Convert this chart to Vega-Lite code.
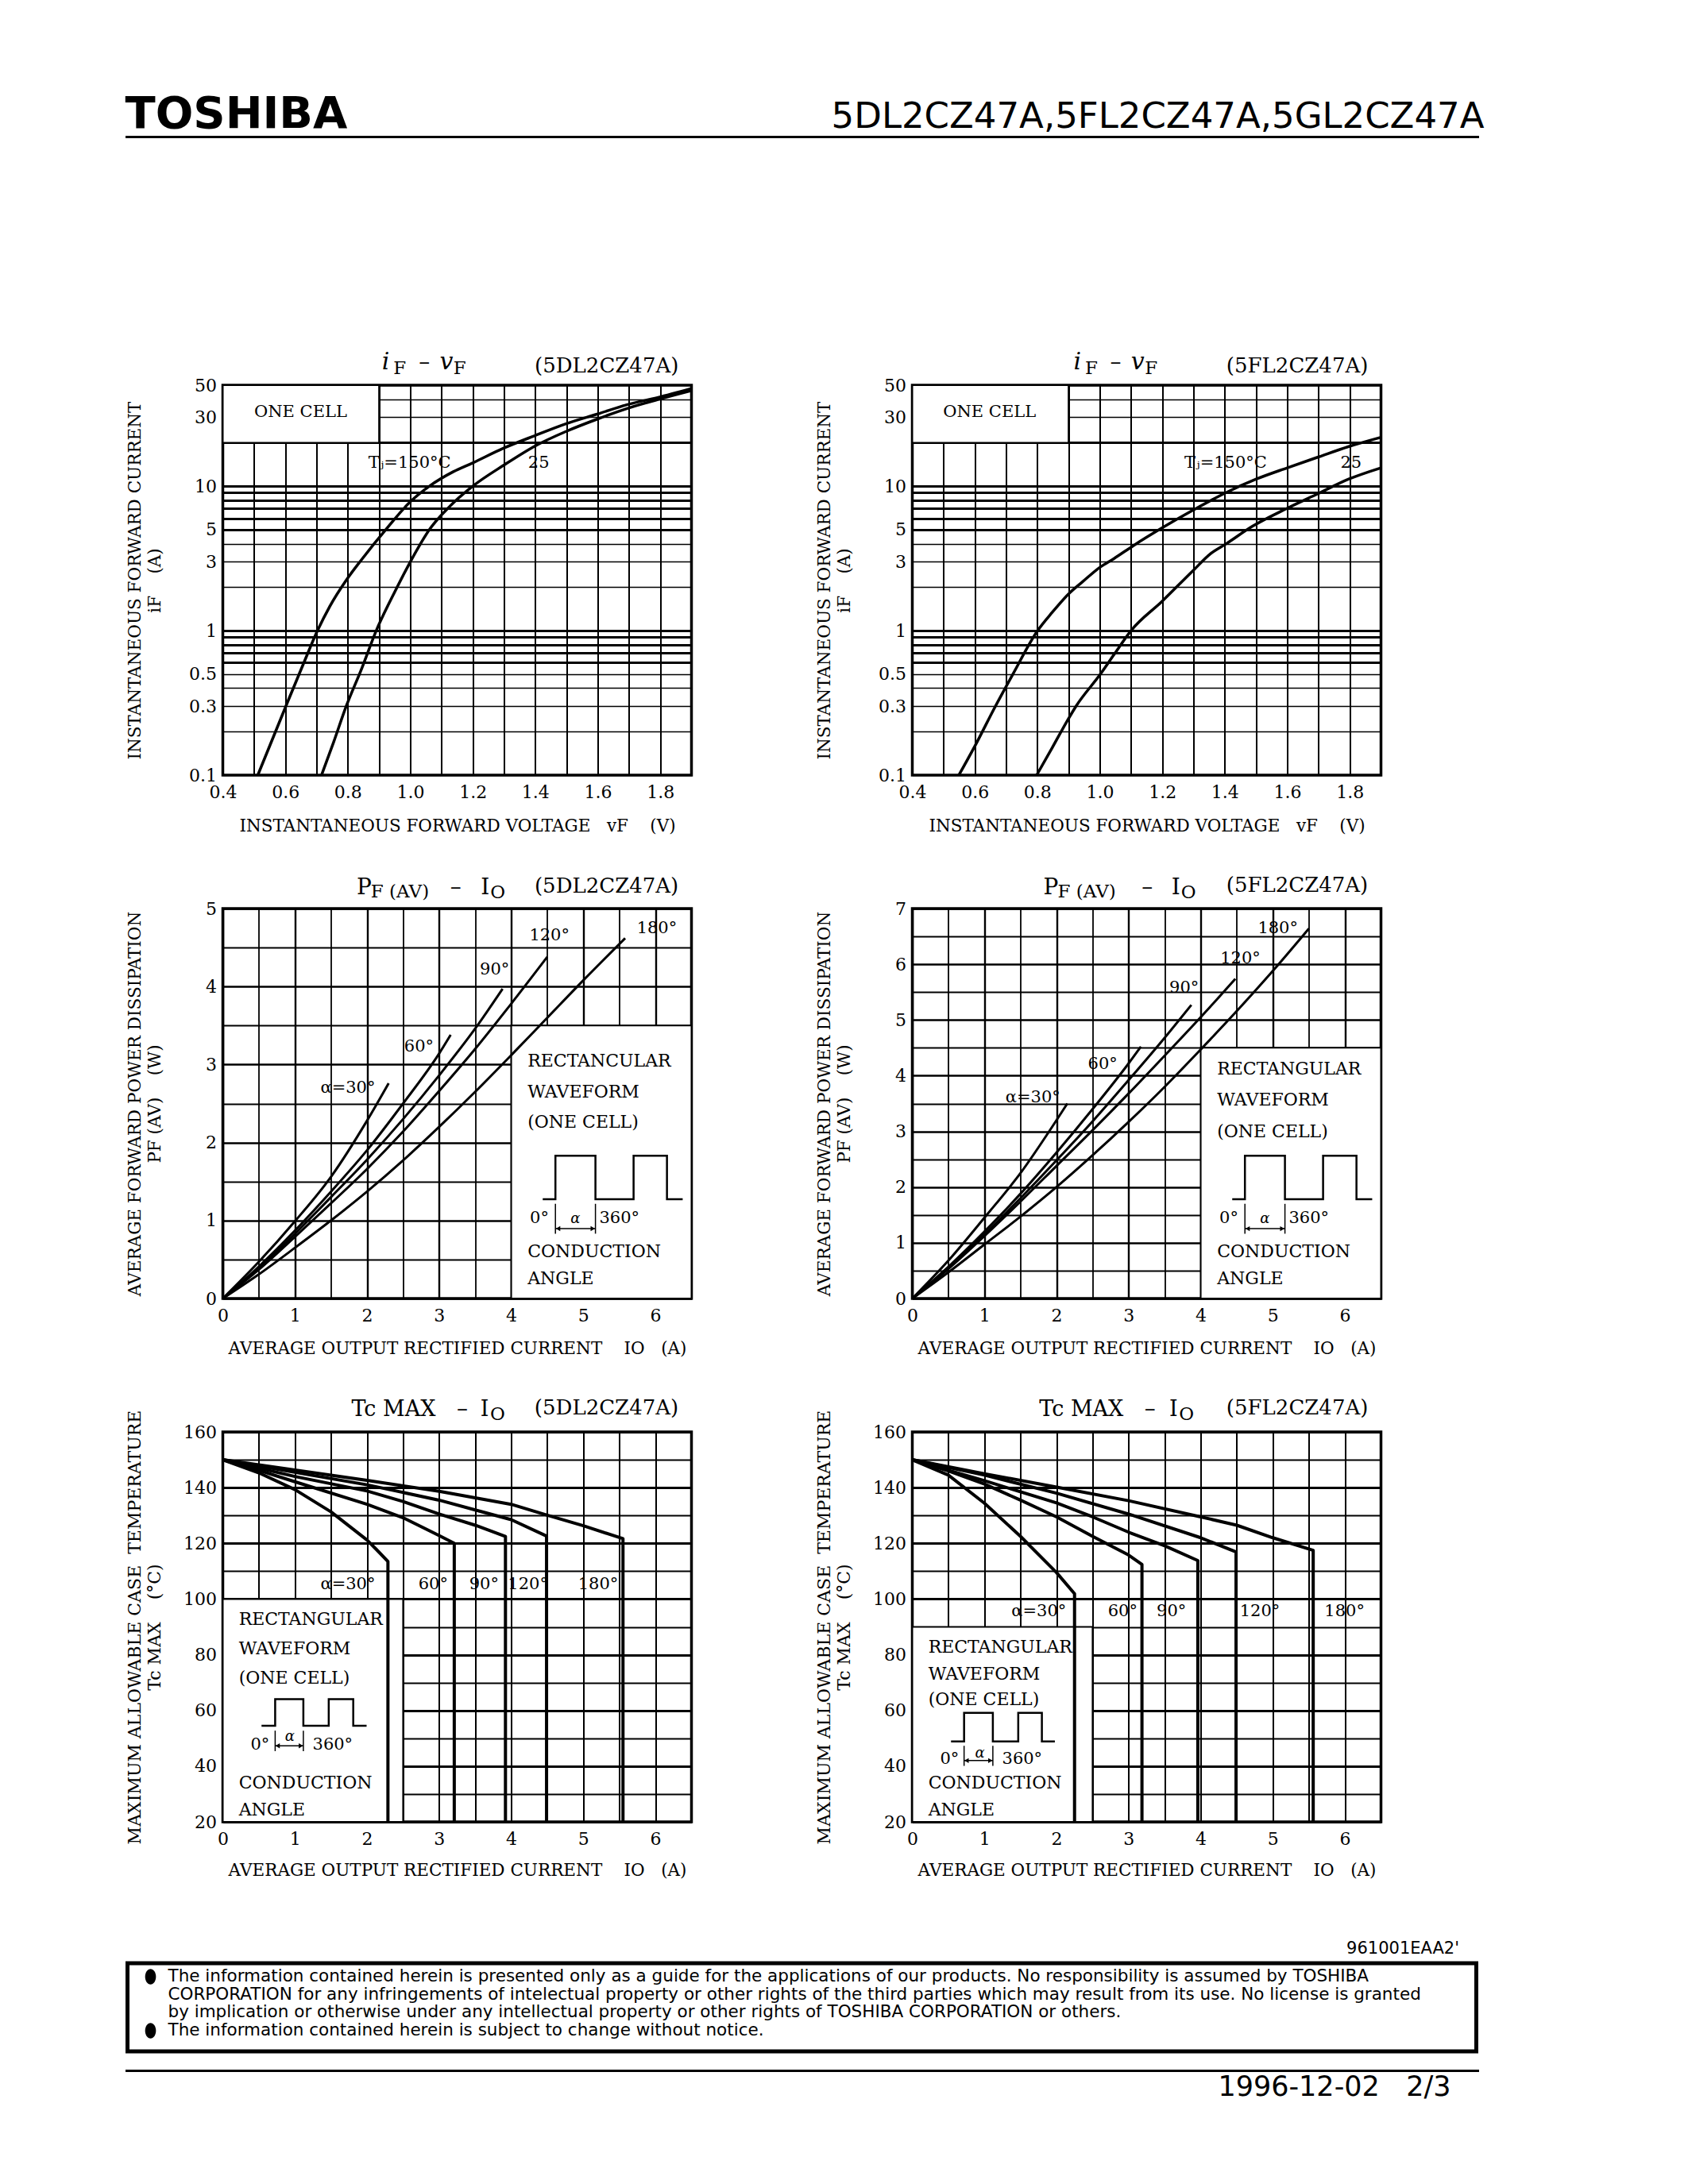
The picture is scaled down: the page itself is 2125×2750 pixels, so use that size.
{
  "$schema": "https://vega.github.io/schema/vega-lite/v6.json",
  "background": "white",
  "padding": {"left": 156.5, "top": 116, "right": 40, "bottom": 20},
  "config": {
    "view": {"stroke": "black", "strokeWidth": 3.5},
    "font": "DejaVu Serif",
    "axis": {
      "labelFont": "DejaVu Serif", "labelFontSize": 22, "labelColor": "black", "labelAngle": 0,
      "titleFont": "DejaVu Serif", "titleFontSize": 21.5, "titleFontWeight": "normal", "titleColor": "black",
      "ticks": false, "tickSize": 0, "domain": false,
      "gridColor": "black", "gridOpacity": 1,
      "labelFlush": false, "labelOverlap": false, "labelBound": false
    },
    "axisX": {"labelBaseline": "middle", "labelPadding": 21, "titleBaseline": "middle"},
    "axisY": {"labelPadding": 8, "titleAngle": 270, "titleBaseline": "bottom", "titleAlign": "center", "titleX": -99, "titleLineHeight": 25},
    "text": {"font": "DejaVu Serif", "color": "black"},
    "line": {"color": "black"},
    "rule": {"color": "black"},
    "title": {"fontWeight": "normal", "color": "black"}
  },
  "vconcat": [
    {
      "width": 1581, "height": 22,
      "view": {"stroke": null},
      "data": {"values": [
        {"side": "left", "text": "TOSHIBA"},
        {"side": "right", "text": "5DL2CZ47A,5FL2CZ47A,5GL2CZ47A"}
      ]},
      "encoding": {
        "x": {"field": "side", "type": "nominal",
          "scale": {"type": "point", "domain": ["left", "right"], "range": [-123, 1581], "padding": 0},
          "axis": {"orient": "bottom", "domain": true, "domainColor": "black", "domainWidth": 3, "labels": false, "ticks": false, "grid": false, "title": null}}
      },
      "layer": [
        {"transform": [{"filter": "datum.side === 'left'"}],
          "mark": {"type": "text", "align": "left", "baseline": "alphabetic", "font": "DejaVu Sans", "fontWeight": "bold", "fontSize": 56},
          "encoding": {"text": {"field": "text", "type": "nominal"}}},
        {"transform": [{"filter": "datum.side === 'right'"}],
          "mark": {"type": "text", "align": "right", "baseline": "alphabetic", "font": "DejaVu Sans", "fontSize": 45, "dx": 7},
          "encoding": {"text": {"field": "text", "type": "nominal"}}}
      ]
    },
    {
      "vconcat": [
        {
          "concat": [
            {
              "width": 590, "height": 491,
              "data": {"values": [
                {"kind": "box", "x": 0.4, "x2": 0.9, "y": 20, "y2": 50},
                {"kind": "c", "s": "150", "x": 0.512, "y": 0.1},
                {"kind": "c", "s": "150", "x": 0.601, "y": 0.297},
                {"kind": "c", "s": "150", "x": 0.657, "y": 0.583},
                {"kind": "c", "s": "150", "x": 0.703, "y": 1.0},
                {"kind": "c", "s": "150", "x": 0.743, "y": 1.48},
                {"kind": "c", "s": "150", "x": 0.796, "y": 2.25},
                {"kind": "c", "s": "150", "x": 0.842, "y": 3.06},
                {"kind": "c", "s": "150", "x": 0.928, "y": 5.2},
                {"kind": "c", "s": "150", "x": 1.0, "y": 7.8},
                {"kind": "c", "s": "150", "x": 1.064, "y": 10.1},
                {"kind": "c", "s": "150", "x": 1.138, "y": 12.6},
                {"kind": "c", "s": "150", "x": 1.2, "y": 14.5},
                {"kind": "c", "s": "150", "x": 1.298, "y": 18.3},
                {"kind": "c", "s": "150", "x": 1.397, "y": 22.3},
                {"kind": "c", "s": "150", "x": 1.5, "y": 27.1},
                {"kind": "c", "s": "150", "x": 1.6, "y": 31.6},
                {"kind": "c", "s": "150", "x": 1.693, "y": 36.6},
                {"kind": "c", "s": "150", "x": 1.791, "y": 41.0},
                {"kind": "c", "s": "150", "x": 1.9, "y": 47.4},
                {"kind": "c", "s": "25", "x": 0.716, "y": 0.1},
                {"kind": "c", "s": "25", "x": 0.755, "y": 0.17},
                {"kind": "c", "s": "25", "x": 0.795, "y": 0.3},
                {"kind": "c", "s": "25", "x": 0.845, "y": 0.55},
                {"kind": "c", "s": "25", "x": 0.891, "y": 1.0},
                {"kind": "c", "s": "25", "x": 0.95, "y": 1.85},
                {"kind": "c", "s": "25", "x": 1.0, "y": 2.99},
                {"kind": "c", "s": "25", "x": 1.064, "y": 5.1},
                {"kind": "c", "s": "25", "x": 1.125, "y": 7.2},
                {"kind": "c", "s": "25", "x": 1.2, "y": 10.0},
                {"kind": "c", "s": "25", "x": 1.3, "y": 14.0},
                {"kind": "c", "s": "25", "x": 1.4, "y": 19.0},
                {"kind": "c", "s": "25", "x": 1.5, "y": 24.0},
                {"kind": "c", "s": "25", "x": 1.6, "y": 29.2},
                {"kind": "c", "s": "25", "x": 1.7, "y": 34.8},
                {"kind": "c", "s": "25", "x": 1.8, "y": 40.2},
                {"kind": "c", "s": "25", "x": 1.9, "y": 45.9},
                {"kind": "lab", "t": "Tⱼ=150°C", "x": 0.998, "y": 14.5},
                {"kind": "lab", "t": "25", "x": 1.411, "y": 14.5},
                {"kind": "lab", "t": "ONE CELL", "x": 0.649, "y": 32.4},
                {"kind": "ti", "t": "i", "x": 0.909, "y": 64.8},
                {"kind": "ti", "t": "v", "x": 1.094, "y": 64.8},
                {"kind": "ts", "t": "F", "x": 0.946, "y": 59.9},
                {"kind": "ts", "t": "F", "x": 1.138, "y": 59.9},
                {"kind": "td", "t": "–", "x": 1.045, "y": 64.8},
                {"kind": "tp", "t": "(5DL2CZ47A)", "x": 1.859, "y": 61.5}
              ]},
              "encoding": {
                "x": {"field": "x", "type": "quantitative", "scale": {"domain": [0.4, 1.9], "nice": false, "zero": false},
                  "axis": {"values": [0.4, 0.5, 0.6, 0.7, 0.8, 0.9, 1, 1.1, 1.2, 1.3, 1.4, 1.5, 1.6, 1.7, 1.8, 1.9],
                    "labelExpr": "indexof([0.4, 0.6, 0.8, 1, 1.2, 1.4, 1.6, 1.8], datum.value) >= 0 ? format(datum.value, '.1f') : ''",
                    "grid": true, "gridWidth": 2, "title": "INSTANTANEOUS FORWARD VOLTAGE\u00a0\u00a0\u00a0vF\u00a0\u00a0\u00a0\u00a0(V)", "titleY": 64}},
                "y": {"field": "y", "type": "quantitative", "scale": {"type": "log", "domain": [0.1, 50], "nice": false},
                  "axis": {"values": [0.1, 0.2, 0.3, 0.4, 0.5, 0.6, 0.7, 0.8, 0.9, 1, 2, 3, 4, 5, 6, 7, 8, 9, 10, 20, 30, 40, 50],
                    "labelExpr": "indexof([0.1, 0.3, 0.5, 1, 3, 5, 10, 30, 50], datum.value) >= 0 ? format(datum.value, '~g') : ''",
                    "grid": true,
                    "gridWidth": {"condition": {"test": "indexof([0.6, 0.7, 0.8, 0.9, 1, 5, 6, 7, 8, 9, 10, 20], datum.value) >= 0", "value": 2.8}, "value": 1.6},
                    "title": ["INSTANTANEOUS FORWARD CURRENT", "iF\u00a0\u00a0\u00a0\u00a0(A)"]}}
              },
              "layer": [
                {"transform": [{"filter": "datum.kind === 'box'"}], "mark": {"type": "rect", "fill": "white", "stroke": "black", "strokeWidth": 2}, "encoding": {"x2": {"field": "x2"}, "y2": {"field": "y2"}}},
                {"transform": [{"filter": "datum.kind === 'c'"}], "mark": {"type": "line", "interpolate": "monotone", "color": "black", "strokeWidth": 3.5, "strokeJoin": "round"}, "encoding": {"detail": {"field": "s", "type": "nominal"}}},
                {"transform": [{"filter": "datum.kind === 'lab'"}], "mark": {"type": "text", "fontSize": 21, "align": "center", "baseline": "middle"}, "encoding": {"text": {"field": "t", "type": "nominal"}}},
                {"transform": [{"filter": "datum.kind === 'ti'"}], "mark": {"type": "text", "fontSize": 30, "fontStyle": "italic", "align": "left", "baseline": "alphabetic"}, "encoding": {"text": {"field": "t", "type": "nominal"}}},
                {"transform": [{"filter": "datum.kind === 'ts'"}], "mark": {"type": "text", "fontSize": 23, "align": "left", "baseline": "alphabetic"}, "encoding": {"text": {"field": "t", "type": "nominal"}}},
                {"transform": [{"filter": "datum.kind === 'td'"}], "mark": {"type": "text", "fontSize": 28, "align": "center", "baseline": "alphabetic"}, "encoding": {"text": {"field": "t", "type": "nominal"}}},
                {"transform": [{"filter": "datum.kind === 'tp'"}], "mark": {"type": "text", "fontSize": 26, "align": "right", "baseline": "alphabetic"}, "encoding": {"text": {"field": "t", "type": "nominal"}}}
              ]
            },
            {
              "width": 590, "height": 491,
              "data": {"values": [
                {"kind": "box", "x": 0.4, "x2": 0.9, "y": 20, "y2": 50},
                {"kind": "c", "s": "150", "x": 0.549, "y": 0.1},
                {"kind": "c", "s": "150", "x": 0.601, "y": 0.16},
                {"kind": "c", "s": "150", "x": 0.666, "y": 0.3},
                {"kind": "c", "s": "150", "x": 0.722, "y": 0.5},
                {"kind": "c", "s": "150", "x": 0.801, "y": 1.0},
                {"kind": "c", "s": "150", "x": 0.848, "y": 1.34},
                {"kind": "c", "s": "150", "x": 0.903, "y": 1.82},
                {"kind": "c", "s": "150", "x": 0.946, "y": 2.19},
                {"kind": "c", "s": "150", "x": 1.002, "y": 2.76},
                {"kind": "c", "s": "150", "x": 1.045, "y": 3.15},
                {"kind": "c", "s": "150", "x": 1.107, "y": 3.87},
                {"kind": "c", "s": "150", "x": 1.2, "y": 5.15},
                {"kind": "c", "s": "150", "x": 1.3, "y": 6.85},
                {"kind": "c", "s": "150", "x": 1.403, "y": 9.0},
                {"kind": "c", "s": "150", "x": 1.501, "y": 11.2},
                {"kind": "c", "s": "150", "x": 1.6, "y": 13.4},
                {"kind": "c", "s": "150", "x": 1.699, "y": 15.9},
                {"kind": "c", "s": "150", "x": 1.797, "y": 18.8},
                {"kind": "c", "s": "150", "x": 1.9, "y": 21.8},
                {"kind": "c", "s": "25", "x": 0.798, "y": 0.1},
                {"kind": "c", "s": "25", "x": 0.848, "y": 0.155},
                {"kind": "c", "s": "25", "x": 0.897, "y": 0.24},
                {"kind": "c", "s": "25", "x": 0.924, "y": 0.3},
                {"kind": "c", "s": "25", "x": 1.002, "y": 0.5},
                {"kind": "c", "s": "25", "x": 1.045, "y": 0.68},
                {"kind": "c", "s": "25", "x": 1.1, "y": 1.0},
                {"kind": "c", "s": "25", "x": 1.2, "y": 1.6},
                {"kind": "c", "s": "25", "x": 1.3, "y": 2.62},
                {"kind": "c", "s": "25", "x": 1.354, "y": 3.4},
                {"kind": "c", "s": "25", "x": 1.403, "y": 3.97},
                {"kind": "c", "s": "25", "x": 1.489, "y": 5.28},
                {"kind": "c", "s": "25", "x": 1.6, "y": 7.03},
                {"kind": "c", "s": "25", "x": 1.699, "y": 8.88},
                {"kind": "c", "s": "25", "x": 1.797, "y": 11.2},
                {"kind": "c", "s": "25", "x": 1.9, "y": 13.4},
                {"kind": "lab", "t": "Tⱼ=150°C", "x": 1.403, "y": 14.5},
                {"kind": "lab", "t": "25", "x": 1.804, "y": 14.5},
                {"kind": "lab", "t": "ONE CELL", "x": 0.647, "y": 32.4},
                {"kind": "ti", "t": "i", "x": 0.916, "y": 64.8},
                {"kind": "ti", "t": "v", "x": 1.1, "y": 64.8},
                {"kind": "ts", "t": "F", "x": 0.953, "y": 59.9},
                {"kind": "ts", "t": "F", "x": 1.144, "y": 59.9},
                {"kind": "td", "t": "–", "x": 1.051, "y": 64.8},
                {"kind": "tp", "t": "(5FL2CZ47A)", "x": 1.859, "y": 61.5}
              ]},
              "encoding": {
                "x": {"field": "x", "type": "quantitative", "scale": {"domain": [0.4, 1.9], "nice": false, "zero": false},
                  "axis": {"values": [0.4, 0.5, 0.6, 0.7, 0.8, 0.9, 1, 1.1, 1.2, 1.3, 1.4, 1.5, 1.6, 1.7, 1.8, 1.9],
                    "labelExpr": "indexof([0.4, 0.6, 0.8, 1, 1.2, 1.4, 1.6, 1.8], datum.value) >= 0 ? format(datum.value, '.1f') : ''",
                    "grid": true, "gridWidth": 2, "title": "INSTANTANEOUS FORWARD VOLTAGE\u00a0\u00a0\u00a0vF\u00a0\u00a0\u00a0\u00a0(V)", "titleY": 64}},
                "y": {"field": "y", "type": "quantitative", "scale": {"type": "log", "domain": [0.1, 50], "nice": false},
                  "axis": {"values": [0.1, 0.2, 0.3, 0.4, 0.5, 0.6, 0.7, 0.8, 0.9, 1, 2, 3, 4, 5, 6, 7, 8, 9, 10, 20, 30, 40, 50],
                    "labelExpr": "indexof([0.1, 0.3, 0.5, 1, 3, 5, 10, 30, 50], datum.value) >= 0 ? format(datum.value, '~g') : ''",
                    "grid": true,
                    "gridWidth": {"condition": {"test": "indexof([0.6, 0.7, 0.8, 0.9, 1, 5, 6, 7, 8, 9, 10, 20], datum.value) >= 0", "value": 2.8}, "value": 1.6},
                    "title": ["INSTANTANEOUS FORWARD CURRENT", "iF\u00a0\u00a0\u00a0\u00a0(A)"]}}
              },
              "layer": [
                {"transform": [{"filter": "datum.kind === 'box'"}], "mark": {"type": "rect", "fill": "white", "stroke": "black", "strokeWidth": 2}, "encoding": {"x2": {"field": "x2"}, "y2": {"field": "y2"}}},
                {"transform": [{"filter": "datum.kind === 'c'"}], "mark": {"type": "line", "interpolate": "monotone", "color": "black", "strokeWidth": 3.5, "strokeJoin": "round"}, "encoding": {"detail": {"field": "s", "type": "nominal"}}},
                {"transform": [{"filter": "datum.kind === 'lab'"}], "mark": {"type": "text", "fontSize": 21, "align": "center", "baseline": "middle"}, "encoding": {"text": {"field": "t", "type": "nominal"}}},
                {"transform": [{"filter": "datum.kind === 'ti'"}], "mark": {"type": "text", "fontSize": 30, "fontStyle": "italic", "align": "left", "baseline": "alphabetic"}, "encoding": {"text": {"field": "t", "type": "nominal"}}},
                {"transform": [{"filter": "datum.kind === 'ts'"}], "mark": {"type": "text", "fontSize": 23, "align": "left", "baseline": "alphabetic"}, "encoding": {"text": {"field": "t", "type": "nominal"}}},
                {"transform": [{"filter": "datum.kind === 'td'"}], "mark": {"type": "text", "fontSize": 28, "align": "center", "baseline": "alphabetic"}, "encoding": {"text": {"field": "t", "type": "nominal"}}},
                {"transform": [{"filter": "datum.kind === 'tp'"}], "mark": {"type": "text", "fontSize": 26, "align": "right", "baseline": "alphabetic"}, "encoding": {"text": {"field": "t", "type": "nominal"}}}
              ]
            },
            {
              "width": 590, "height": 491,
              "data": {"values": [
                {"kind": "box", "x": 4, "x2": 6.5, "y": 0, "y2": 3.5},
                {"kind": "c", "s": "30", "x": 0, "y": 0}, {"kind": "c", "s": "30", "x": 0.5, "y": 0.47}, {"kind": "c", "s": "30", "x": 1.0, "y": 0.99}, {"kind": "c", "s": "30", "x": 1.5, "y": 1.56}, {"kind": "c", "s": "30", "x": 2.0, "y": 2.28}, {"kind": "c", "s": "30", "x": 2.3, "y": 2.76},
                {"kind": "c", "s": "60", "x": 0, "y": 0}, {"kind": "c", "s": "60", "x": 0.5, "y": 0.41}, {"kind": "c", "s": "60", "x": 1.0, "y": 0.87}, {"kind": "c", "s": "60", "x": 1.5, "y": 1.37}, {"kind": "c", "s": "60", "x": 2.0, "y": 1.9}, {"kind": "c", "s": "60", "x": 2.5, "y": 2.5}, {"kind": "c", "s": "60", "x": 3.0, "y": 3.14}, {"kind": "c", "s": "60", "x": 3.16, "y": 3.38},
                {"kind": "c", "s": "90", "x": 0, "y": 0}, {"kind": "c", "s": "90", "x": 0.5, "y": 0.39}, {"kind": "c", "s": "90", "x": 1.0, "y": 0.83}, {"kind": "c", "s": "90", "x": 1.5, "y": 1.3}, {"kind": "c", "s": "90", "x": 2.0, "y": 1.78}, {"kind": "c", "s": "90", "x": 2.5, "y": 2.3}, {"kind": "c", "s": "90", "x": 3.0, "y": 2.86}, {"kind": "c", "s": "90", "x": 3.5, "y": 3.46}, {"kind": "c", "s": "90", "x": 3.88, "y": 3.97},
                {"kind": "c", "s": "120", "x": 0, "y": 0}, {"kind": "c", "s": "120", "x": 0.5, "y": 0.37}, {"kind": "c", "s": "120", "x": 1.0, "y": 0.79}, {"kind": "c", "s": "120", "x": 1.5, "y": 1.22}, {"kind": "c", "s": "120", "x": 2.0, "y": 1.66}, {"kind": "c", "s": "120", "x": 2.5, "y": 2.14}, {"kind": "c", "s": "120", "x": 3.0, "y": 2.66}, {"kind": "c", "s": "120", "x": 3.5, "y": 3.2}, {"kind": "c", "s": "120", "x": 4.0, "y": 3.78}, {"kind": "c", "s": "120", "x": 4.5, "y": 4.38},
                {"kind": "c", "s": "180", "x": 0, "y": 0}, {"kind": "c", "s": "180", "x": 0.5, "y": 0.31}, {"kind": "c", "s": "180", "x": 1.0, "y": 0.65}, {"kind": "c", "s": "180", "x": 1.5, "y": 1.0}, {"kind": "c", "s": "180", "x": 2.0, "y": 1.37}, {"kind": "c", "s": "180", "x": 2.5, "y": 1.77}, {"kind": "c", "s": "180", "x": 3.0, "y": 2.2}, {"kind": "c", "s": "180", "x": 3.5, "y": 2.65}, {"kind": "c", "s": "180", "x": 4.0, "y": 3.12}, {"kind": "c", "s": "180", "x": 4.5, "y": 3.6}, {"kind": "c", "s": "180", "x": 5.0, "y": 4.08}, {"kind": "c", "s": "180", "x": 5.58, "y": 4.62},
                {"kind": "lab", "t": "α=30°", "x": 1.735, "y": 2.7},
                {"kind": "lab", "t": "60°", "x": 2.72, "y": 3.23},
                {"kind": "lab", "t": "90°", "x": 3.77, "y": 4.22},
                {"kind": "lab", "t": "120°", "x": 4.53, "y": 4.65},
                {"kind": "lab", "t": "180°", "x": 6.02, "y": 4.75},
                {"kind": "lab", "t": "0°", "x": 4.39, "y": 1.026},
                {"kind": "lab", "t": "360°", "x": 5.5, "y": 1.026},
                {"kind": "bt", "t": "RECTANCULAR", "x": 4.227, "y": 3.044},
                {"kind": "bt", "t": "WAVEFORM", "x": 4.227, "y": 2.65},
                {"kind": "bt", "t": "(ONE CELL)", "x": 4.227, "y": 2.257},
                {"kind": "bt", "t": "CONDUCTION", "x": 4.227, "y": 0.598},
                {"kind": "bt", "t": "ANGLE", "x": 4.227, "y": 0.256},
                {"kind": "wf", "o": 1, "x": 4.437, "y": 1.272}, {"kind": "wf", "o": 2, "x": 4.613, "y": 1.272}, {"kind": "wf", "o": 3, "x": 4.613, "y": 1.83}, {"kind": "wf", "o": 4, "x": 5.168, "y": 1.83}, {"kind": "wf", "o": 5, "x": 5.168, "y": 1.272}, {"kind": "wf", "o": 6, "x": 5.697, "y": 1.272}, {"kind": "wf", "o": 7, "x": 5.697, "y": 1.83}, {"kind": "wf", "o": 8, "x": 6.16, "y": 1.83}, {"kind": "wf", "o": 9, "x": 6.16, "y": 1.272}, {"kind": "wf", "o": 10, "x": 6.378, "y": 1.272},
                {"kind": "tk", "x": 4.613, "y": 0.831, "y2": 1.214},
                {"kind": "tk", "x": 5.168, "y": 0.831, "y2": 1.214},
                {"kind": "ar", "x": 4.613, "x2": 5.168, "y": 0.896},
                {"kind": "ahl", "x": 4.65, "y": 0.896},
                {"kind": "ahr", "x": 5.131, "y": 0.896},
                {"kind": "al", "t": "α", "x": 4.89, "y": 1.016},
                {"kind": "tr", "t": "P", "x": 1.856, "y": 5.184},
                {"kind": "ts", "t": "F (AV)", "x": 2.053, "y": 5.143},
                {"kind": "td", "t": "–", "x": 3.23, "y": 5.184},
                {"kind": "tr", "t": "I", "x": 3.578, "y": 5.184},
                {"kind": "ts", "t": "O", "x": 3.711, "y": 5.131},
                {"kind": "tp", "t": "(5DL2CZ47A)", "x": 6.321, "y": 5.2}
              ]},
              "encoding": {
                "x": {"field": "x", "type": "quantitative", "scale": {"domain": [0, 6.5], "nice": false, "zero": false},
                  "axis": {"values": [0, 0.5, 1, 1.5, 2, 2.5, 3, 3.5, 4, 4.5, 5, 5.5, 6, 6.5],
                    "labelExpr": "datum.value % 1 === 0 && datum.value <= 6 ? format(datum.value, 'd') : ''",
                    "grid": true, "gridWidth": {"condition": {"test": "datum.value % 1 === 0", "value": 2.4}, "value": 1.8},
                    "title": "AVERAGE OUTPUT RECTIFIED CURRENT\u00a0\u00a0\u00a0\u00a0IO\u00a0\u00a0\u00a0(A)", "titleY": 63}},
                "y": {"field": "y", "type": "quantitative", "scale": {"domain": [0, 5], "nice": false},
                  "axis": {"values": [0, 0.5, 1, 1.5, 2, 2.5, 3, 3.5, 4, 4.5, 5],
                    "labelExpr": "datum.value % 1 === 0 ? format(datum.value, 'd') : ''",
                    "grid": true, "gridWidth": {"condition": {"test": "datum.value % 1 === 0", "value": 2.4}, "value": 1.8},
                    "title": ["AVERAGE FORWARD POWER DISSIPATION", "PF (AV)\u00a0\u00a0\u00a0\u00a0(W)"]}}
              },
              "layer": [
                {"transform": [{"filter": "datum.kind === 'box'"}], "mark": {"type": "rect", "fill": "white", "stroke": "black", "strokeWidth": 2}, "encoding": {"x2": {"field": "x2"}, "y2": {"field": "y2"}}},
                {"transform": [{"filter": "datum.kind === 'c'"}], "mark": {"type": "line", "interpolate": "monotone", "color": "black", "strokeWidth": 3, "strokeJoin": "round"}, "encoding": {"detail": {"field": "s", "type": "nominal"}}},
                {"transform": [{"filter": "datum.kind === 'wf'"}], "mark": {"type": "line", "color": "black", "strokeWidth": 2.5}, "encoding": {"order": {"field": "o", "type": "quantitative"}}},
                {"transform": [{"filter": "datum.kind === 'tk'"}], "mark": {"type": "rule", "strokeWidth": 1.5}, "encoding": {"y2": {"field": "y2"}}},
                {"transform": [{"filter": "datum.kind === 'ar'"}], "mark": {"type": "rule", "strokeWidth": 1.5}, "encoding": {"x2": {"field": "x2"}}},
                {"transform": [{"filter": "datum.kind === 'ahl'"}], "mark": {"type": "point", "shape": "triangle-left", "filled": true, "opacity": 1, "color": "black", "size": 40}},
                {"transform": [{"filter": "datum.kind === 'ahr'"}], "mark": {"type": "point", "shape": "triangle-right", "filled": true, "opacity": 1, "color": "black", "size": 40}},
                {"transform": [{"filter": "datum.kind === 'al'"}], "mark": {"type": "text", "fontSize": 18, "fontStyle": "italic", "align": "center", "baseline": "middle"}, "encoding": {"text": {"field": "t", "type": "nominal"}}},
                {"transform": [{"filter": "datum.kind === 'lab'"}], "mark": {"type": "text", "fontSize": 21, "align": "center", "baseline": "middle"}, "encoding": {"text": {"field": "t", "type": "nominal"}}},
                {"transform": [{"filter": "datum.kind === 'bt'"}], "mark": {"type": "text", "fontSize": 22, "align": "left", "baseline": "middle"}, "encoding": {"text": {"field": "t", "type": "nominal"}}},
                {"transform": [{"filter": "datum.kind === 'tr'"}], "mark": {"type": "text", "fontSize": 28, "align": "left", "baseline": "alphabetic"}, "encoding": {"text": {"field": "t", "type": "nominal"}}},
                {"transform": [{"filter": "datum.kind === 'ts'"}], "mark": {"type": "text", "fontSize": 23, "align": "left", "baseline": "alphabetic"}, "encoding": {"text": {"field": "t", "type": "nominal"}}},
                {"transform": [{"filter": "datum.kind === 'td'"}], "mark": {"type": "text", "fontSize": 28, "align": "center", "baseline": "alphabetic"}, "encoding": {"text": {"field": "t", "type": "nominal"}}},
                {"transform": [{"filter": "datum.kind === 'tp'"}], "mark": {"type": "text", "fontSize": 26, "align": "right", "baseline": "alphabetic"}, "encoding": {"text": {"field": "t", "type": "nominal"}}}
              ]
            },
            {
              "width": 590, "height": 491,
              "data": {"values": [
                {"kind": "box", "x": 4, "x2": 6.5, "y": 0, "y2": 4.5},
                {"kind": "c", "s": "30", "x": 0, "y": 0}, {"kind": "c", "s": "30", "x": 0.5, "y": 0.68}, {"kind": "c", "s": "30", "x": 1.0, "y": 1.45}, {"kind": "c", "s": "30", "x": 1.5, "y": 2.25}, {"kind": "c", "s": "30", "x": 2.0, "y": 3.2}, {"kind": "c", "s": "30", "x": 2.15, "y": 3.5},
                {"kind": "c", "s": "60", "x": 0, "y": 0}, {"kind": "c", "s": "60", "x": 0.5, "y": 0.57}, {"kind": "c", "s": "60", "x": 1.0, "y": 1.2}, {"kind": "c", "s": "60", "x": 1.5, "y": 1.88}, {"kind": "c", "s": "60", "x": 2.0, "y": 2.62}, {"kind": "c", "s": "60", "x": 2.5, "y": 3.4}, {"kind": "c", "s": "60", "x": 3.0, "y": 4.22}, {"kind": "c", "s": "60", "x": 3.17, "y": 4.52},
                {"kind": "c", "s": "90", "x": 0, "y": 0}, {"kind": "c", "s": "90", "x": 0.5, "y": 0.55}, {"kind": "c", "s": "90", "x": 1.0, "y": 1.15}, {"kind": "c", "s": "90", "x": 1.5, "y": 1.8}, {"kind": "c", "s": "90", "x": 2.0, "y": 2.48}, {"kind": "c", "s": "90", "x": 2.5, "y": 3.18}, {"kind": "c", "s": "90", "x": 3.0, "y": 3.92}, {"kind": "c", "s": "90", "x": 3.5, "y": 4.68}, {"kind": "c", "s": "90", "x": 3.87, "y": 5.27},
                {"kind": "c", "s": "120", "x": 0, "y": 0}, {"kind": "c", "s": "120", "x": 0.5, "y": 0.53}, {"kind": "c", "s": "120", "x": 1.0, "y": 1.12}, {"kind": "c", "s": "120", "x": 1.5, "y": 1.74}, {"kind": "c", "s": "120", "x": 2.0, "y": 2.38}, {"kind": "c", "s": "120", "x": 2.5, "y": 3.02}, {"kind": "c", "s": "120", "x": 3.0, "y": 3.68}, {"kind": "c", "s": "120", "x": 3.5, "y": 4.36}, {"kind": "c", "s": "120", "x": 4.0, "y": 5.05}, {"kind": "c", "s": "120", "x": 4.48, "y": 5.74},
                {"kind": "c", "s": "180", "x": 0, "y": 0}, {"kind": "c", "s": "180", "x": 0.5, "y": 0.47}, {"kind": "c", "s": "180", "x": 1.0, "y": 0.97}, {"kind": "c", "s": "180", "x": 1.5, "y": 1.47}, {"kind": "c", "s": "180", "x": 2.0, "y": 2.0}, {"kind": "c", "s": "180", "x": 2.5, "y": 2.57}, {"kind": "c", "s": "180", "x": 3.0, "y": 3.17}, {"kind": "c", "s": "180", "x": 3.5, "y": 3.8}, {"kind": "c", "s": "180", "x": 4.0, "y": 4.47}, {"kind": "c", "s": "180", "x": 4.5, "y": 5.16}, {"kind": "c", "s": "180", "x": 5.0, "y": 5.88}, {"kind": "c", "s": "180", "x": 5.5, "y": 6.64},
                {"kind": "lab", "t": "α=30°", "x": 1.672, "y": 3.614},
                {"kind": "lab", "t": "60°", "x": 2.64, "y": 4.21},
                {"kind": "lab", "t": "90°", "x": 3.77, "y": 5.58},
                {"kind": "lab", "t": "120°", "x": 4.55, "y": 6.1},
                {"kind": "lab", "t": "180°", "x": 5.07, "y": 6.65},
                {"kind": "lab", "t": "0°", "x": 4.39, "y": 1.436},
                {"kind": "lab", "t": "360°", "x": 5.5, "y": 1.436},
                {"kind": "bt", "t": "RECTANGULAR", "x": 4.227, "y": 4.117},
                {"kind": "bt", "t": "WAVEFORM", "x": 4.227, "y": 3.566},
                {"kind": "bt", "t": "(ONE CELL)", "x": 4.227, "y": 2.992},
                {"kind": "bt", "t": "CONDUCTION", "x": 4.227, "y": 0.838},
                {"kind": "bt", "t": "ANGLE", "x": 4.227, "y": 0.359},
                {"kind": "wf", "o": 1, "x": 4.437, "y": 1.781}, {"kind": "wf", "o": 2, "x": 4.613, "y": 1.781}, {"kind": "wf", "o": 3, "x": 4.613, "y": 2.561}, {"kind": "wf", "o": 4, "x": 5.168, "y": 2.561}, {"kind": "wf", "o": 5, "x": 5.168, "y": 1.781}, {"kind": "wf", "o": 6, "x": 5.697, "y": 1.781}, {"kind": "wf", "o": 7, "x": 5.697, "y": 2.561}, {"kind": "wf", "o": 8, "x": 6.16, "y": 2.561}, {"kind": "wf", "o": 9, "x": 6.16, "y": 1.781}, {"kind": "wf", "o": 10, "x": 6.378, "y": 1.781},
                {"kind": "tk", "x": 4.613, "y": 1.163, "y2": 1.699},
                {"kind": "tk", "x": 5.168, "y": 1.163, "y2": 1.699},
                {"kind": "ar", "x": 4.613, "x2": 5.168, "y": 1.254},
                {"kind": "ahl", "x": 4.65, "y": 1.254},
                {"kind": "ahr", "x": 5.131, "y": 1.254},
                {"kind": "al", "t": "α", "x": 4.89, "y": 1.422},
                {"kind": "tr", "t": "P", "x": 1.818, "y": 7.258},
                {"kind": "ts", "t": "F (AV)", "x": 2.016, "y": 7.2},
                {"kind": "td", "t": "–", "x": 3.257, "y": 7.258},
                {"kind": "tr", "t": "I", "x": 3.594, "y": 7.258},
                {"kind": "ts", "t": "O", "x": 3.727, "y": 7.183},
                {"kind": "tp", "t": "(5FL2CZ47A)", "x": 6.321, "y": 7.298}
              ]},
              "encoding": {
                "x": {"field": "x", "type": "quantitative", "scale": {"domain": [0, 6.5], "nice": false, "zero": false},
                  "axis": {"values": [0, 0.5, 1, 1.5, 2, 2.5, 3, 3.5, 4, 4.5, 5, 5.5, 6, 6.5],
                    "labelExpr": "datum.value % 1 === 0 && datum.value <= 6 ? format(datum.value, 'd') : ''",
                    "grid": true, "gridWidth": {"condition": {"test": "datum.value % 1 === 0", "value": 2.4}, "value": 1.8},
                    "title": "AVERAGE OUTPUT RECTIFIED CURRENT\u00a0\u00a0\u00a0\u00a0IO\u00a0\u00a0\u00a0(A)", "titleY": 63}},
                "y": {"field": "y", "type": "quantitative", "scale": {"domain": [0, 7], "nice": false},
                  "axis": {"values": [0, 0.5, 1, 1.5, 2, 2.5, 3, 3.5, 4, 4.5, 5, 5.5, 6, 6.5, 7],
                    "labelExpr": "datum.value % 1 === 0 ? format(datum.value, 'd') : ''",
                    "grid": true, "gridWidth": {"condition": {"test": "datum.value % 1 === 0", "value": 2.4}, "value": 1.8},
                    "title": ["AVERAGE FORWARD POWER DISSIPATION", "PF (AV)\u00a0\u00a0\u00a0\u00a0(W)"]}}
              },
              "layer": [
                {"transform": [{"filter": "datum.kind === 'box'"}], "mark": {"type": "rect", "fill": "white", "stroke": "black", "strokeWidth": 2}, "encoding": {"x2": {"field": "x2"}, "y2": {"field": "y2"}}},
                {"transform": [{"filter": "datum.kind === 'c'"}], "mark": {"type": "line", "interpolate": "monotone", "color": "black", "strokeWidth": 3, "strokeJoin": "round"}, "encoding": {"detail": {"field": "s", "type": "nominal"}}},
                {"transform": [{"filter": "datum.kind === 'wf'"}], "mark": {"type": "line", "color": "black", "strokeWidth": 2.5}, "encoding": {"order": {"field": "o", "type": "quantitative"}}},
                {"transform": [{"filter": "datum.kind === 'tk'"}], "mark": {"type": "rule", "strokeWidth": 1.5}, "encoding": {"y2": {"field": "y2"}}},
                {"transform": [{"filter": "datum.kind === 'ar'"}], "mark": {"type": "rule", "strokeWidth": 1.5}, "encoding": {"x2": {"field": "x2"}}},
                {"transform": [{"filter": "datum.kind === 'ahl'"}], "mark": {"type": "point", "shape": "triangle-left", "filled": true, "opacity": 1, "color": "black", "size": 40}},
                {"transform": [{"filter": "datum.kind === 'ahr'"}], "mark": {"type": "point", "shape": "triangle-right", "filled": true, "opacity": 1, "color": "black", "size": 40}},
                {"transform": [{"filter": "datum.kind === 'al'"}], "mark": {"type": "text", "fontSize": 18, "fontStyle": "italic", "align": "center", "baseline": "middle"}, "encoding": {"text": {"field": "t", "type": "nominal"}}},
                {"transform": [{"filter": "datum.kind === 'lab'"}], "mark": {"type": "text", "fontSize": 21, "align": "center", "baseline": "middle"}, "encoding": {"text": {"field": "t", "type": "nominal"}}},
                {"transform": [{"filter": "datum.kind === 'bt'"}], "mark": {"type": "text", "fontSize": 22, "align": "left", "baseline": "middle"}, "encoding": {"text": {"field": "t", "type": "nominal"}}},
                {"transform": [{"filter": "datum.kind === 'tr'"}], "mark": {"type": "text", "fontSize": 28, "align": "left", "baseline": "alphabetic"}, "encoding": {"text": {"field": "t", "type": "nominal"}}},
                {"transform": [{"filter": "datum.kind === 'ts'"}], "mark": {"type": "text", "fontSize": 23, "align": "left", "baseline": "alphabetic"}, "encoding": {"text": {"field": "t", "type": "nominal"}}},
                {"transform": [{"filter": "datum.kind === 'td'"}], "mark": {"type": "text", "fontSize": 28, "align": "center", "baseline": "alphabetic"}, "encoding": {"text": {"field": "t", "type": "nominal"}}},
                {"transform": [{"filter": "datum.kind === 'tp'"}], "mark": {"type": "text", "fontSize": 26, "align": "right", "baseline": "alphabetic"}, "encoding": {"text": {"field": "t", "type": "nominal"}}}
              ]
            },
            {
              "width": 590, "height": 491,
              "data": {"values": [
                {"kind": "box", "x": 0, "x2": 2.5, "y": 20, "y2": 100},
                {"kind": "c", "s": "30", "o": 1, "x": 0, "y": 150}, {"kind": "c", "s": "30", "o": 2, "x": 0.5, "y": 145.3}, {"kind": "c", "s": "30", "o": 3, "x": 1.0, "y": 139.3}, {"kind": "c", "s": "30", "o": 4, "x": 1.5, "y": 131.3}, {"kind": "c", "s": "30", "o": 5, "x": 2.0, "y": 121.2}, {"kind": "c", "s": "30", "o": 6, "x": 2.13, "y": 117.8}, {"kind": "c", "s": "30", "o": 7, "x": 2.29, "y": 113.5}, {"kind": "c", "s": "30", "o": 8, "x": 2.29, "y": 20},
                {"kind": "c", "s": "60", "o": 1, "x": 0, "y": 150}, {"kind": "c", "s": "60", "o": 2, "x": 0.5, "y": 146.2}, {"kind": "c", "s": "60", "o": 3, "x": 1.0, "y": 142.1}, {"kind": "c", "s": "60", "o": 4, "x": 2.0, "y": 134}, {"kind": "c", "s": "60", "o": 5, "x": 2.5, "y": 129.2}, {"kind": "c", "s": "60", "o": 6, "x": 3.0, "y": 122.8}, {"kind": "c", "s": "60", "o": 7, "x": 3.21, "y": 120}, {"kind": "c", "s": "60", "o": 8, "x": 3.21, "y": 20},
                {"kind": "c", "s": "90", "o": 1, "x": 0, "y": 150}, {"kind": "c", "s": "90", "o": 2, "x": 1.0, "y": 144}, {"kind": "c", "s": "90", "o": 3, "x": 2.0, "y": 138.8}, {"kind": "c", "s": "90", "o": 4, "x": 2.5, "y": 135}, {"kind": "c", "s": "90", "o": 5, "x": 3.0, "y": 130.5}, {"kind": "c", "s": "90", "o": 6, "x": 3.5, "y": 126.5}, {"kind": "c", "s": "90", "o": 7, "x": 3.92, "y": 122.5}, {"kind": "c", "s": "90", "o": 8, "x": 3.92, "y": 20},
                {"kind": "c", "s": "120", "o": 1, "x": 0, "y": 150}, {"kind": "c", "s": "120", "o": 2, "x": 1.0, "y": 145.5}, {"kind": "c", "s": "120", "o": 3, "x": 2.0, "y": 141}, {"kind": "c", "s": "120", "o": 4, "x": 3.0, "y": 135.5}, {"kind": "c", "s": "120", "o": 5, "x": 3.5, "y": 132}, {"kind": "c", "s": "120", "o": 6, "x": 4.0, "y": 128.5}, {"kind": "c", "s": "120", "o": 7, "x": 4.49, "y": 122.6}, {"kind": "c", "s": "120", "o": 8, "x": 4.49, "y": 20},
                {"kind": "c", "s": "180", "o": 1, "x": 0, "y": 150}, {"kind": "c", "s": "180", "o": 2, "x": 1.0, "y": 146.3}, {"kind": "c", "s": "180", "o": 3, "x": 2.0, "y": 142.6}, {"kind": "c", "s": "180", "o": 4, "x": 3.0, "y": 138.7}, {"kind": "c", "s": "180", "o": 5, "x": 4.0, "y": 134}, {"kind": "c", "s": "180", "o": 6, "x": 4.5, "y": 130.1}, {"kind": "c", "s": "180", "o": 7, "x": 5.0, "y": 126.3}, {"kind": "c", "s": "180", "o": 8, "x": 5.55, "y": 121.7}, {"kind": "c", "s": "180", "o": 9, "x": 5.55, "y": 20},
                {"kind": "lab", "t": "α=30°", "x": 1.735, "y": 105.2},
                {"kind": "lab", "t": "60°", "x": 2.918, "y": 105.2},
                {"kind": "lab", "t": "90°", "x": 3.623, "y": 105.2},
                {"kind": "lab", "t": "120°", "x": 4.232, "y": 105.2},
                {"kind": "lab", "t": "180°", "x": 5.206, "y": 105.2},
                {"kind": "lab", "t": "0°", "x": 0.516, "y": 47.8},
                {"kind": "lab", "t": "360°", "x": 1.524, "y": 47.8},
                {"kind": "bt", "t": "RECTANGULAR", "x": 0.222, "y": 92.6},
                {"kind": "bt", "t": "WAVEFORM", "x": 0.222, "y": 82.2},
                {"kind": "bt", "t": "(ONE CELL)", "x": 0.222, "y": 71.7},
                {"kind": "bt", "t": "CONDUCTION", "x": 0.222, "y": 33.9},
                {"kind": "bt", "t": "ANGLE", "x": 0.222, "y": 24.3},
                {"kind": "wf", "o": 1, "x": 0.537, "y": 54.5}, {"kind": "wf", "o": 2, "x": 0.726, "y": 54.5}, {"kind": "wf", "o": 3, "x": 0.726, "y": 64.05}, {"kind": "wf", "o": 4, "x": 1.117, "y": 64.05}, {"kind": "wf", "o": 5, "x": 1.117, "y": 54.5}, {"kind": "wf", "o": 6, "x": 1.469, "y": 54.5}, {"kind": "wf", "o": 7, "x": 1.469, "y": 64.05}, {"kind": "wf", "o": 8, "x": 1.809, "y": 64.05}, {"kind": "wf", "o": 9, "x": 1.809, "y": 54.5}, {"kind": "wf", "o": 10, "x": 1.994, "y": 54.5},
                {"kind": "tk", "x": 0.726, "y": 45.4, "y2": 52.75},
                {"kind": "tk", "x": 1.117, "y": 45.4, "y2": 52.75},
                {"kind": "ar", "x": 0.726, "x2": 1.117, "y": 47.3},
                {"kind": "ahl", "x": 0.76, "y": 47.3},
                {"kind": "ahr", "x": 1.083, "y": 47.3},
                {"kind": "al", "t": "α", "x": 0.928, "y": 50.6},
                {"kind": "tr", "t": "Tc MAX", "x": 1.784, "y": 165.76},
                {"kind": "td", "t": "–", "x": 3.321, "y": 165.76},
                {"kind": "tr", "t": "I", "x": 3.573, "y": 165.76},
                {"kind": "ts", "t": "O", "x": 3.706, "y": 164.4},
                {"kind": "tp", "t": "(5DL2CZ47A)", "x": 6.32, "y": 166.3}
              ]},
              "encoding": {
                "x": {"field": "x", "type": "quantitative", "scale": {"domain": [0, 6.5], "nice": false, "zero": false},
                  "axis": {"values": [0, 0.5, 1, 1.5, 2, 2.5, 3, 3.5, 4, 4.5, 5, 5.5, 6, 6.5],
                    "labelExpr": "datum.value % 1 === 0 && datum.value <= 6 ? format(datum.value, 'd') : ''",
                    "grid": true, "gridWidth": 2,
                    "title": "AVERAGE OUTPUT RECTIFIED CURRENT\u00a0\u00a0\u00a0\u00a0IO\u00a0\u00a0\u00a0(A)", "titleY": 61}},
                "y": {"field": "y", "type": "quantitative", "scale": {"domain": [20, 160], "nice": false, "zero": false},
                  "axis": {"values": [20, 30, 40, 50, 60, 70, 80, 90, 100, 110, 120, 130, 140, 150, 160],
                    "labelExpr": "datum.value % 20 === 0 ? format(datum.value, 'd') : ''",
                    "grid": true, "gridWidth": {"condition": {"test": "datum.value % 20 === 0", "value": 2.8}, "value": 1.8},
                    "title": ["MAXIMUM ALLOWABLE CASE\u00a0\u00a0TEMPERATURE", "Tc MAX\u00a0\u00a0\u00a0\u00a0(°C)"], "titleFontSize": 22}}
              },
              "layer": [
                {"transform": [{"filter": "datum.kind === 'box'"}], "mark": {"type": "rect", "fill": "white", "stroke": "black", "strokeWidth": 2}, "encoding": {"x2": {"field": "x2"}, "y2": {"field": "y2"}}},
                {"transform": [{"filter": "datum.kind === 'c'"}], "mark": {"type": "line", "color": "black", "strokeWidth": 4, "strokeJoin": "round"}, "encoding": {"detail": {"field": "s", "type": "nominal"}, "order": {"field": "o", "type": "quantitative"}}},
                {"transform": [{"filter": "datum.kind === 'wf'"}], "mark": {"type": "line", "color": "black", "strokeWidth": 2.5}, "encoding": {"order": {"field": "o", "type": "quantitative"}}},
                {"transform": [{"filter": "datum.kind === 'tk'"}], "mark": {"type": "rule", "strokeWidth": 1.5}, "encoding": {"y2": {"field": "y2"}}},
                {"transform": [{"filter": "datum.kind === 'ar'"}], "mark": {"type": "rule", "strokeWidth": 1.5}, "encoding": {"x2": {"field": "x2"}}},
                {"transform": [{"filter": "datum.kind === 'ahl'"}], "mark": {"type": "point", "shape": "triangle-left", "filled": true, "opacity": 1, "color": "black", "size": 40}},
                {"transform": [{"filter": "datum.kind === 'ahr'"}], "mark": {"type": "point", "shape": "triangle-right", "filled": true, "opacity": 1, "color": "black", "size": 40}},
                {"transform": [{"filter": "datum.kind === 'al'"}], "mark": {"type": "text", "fontSize": 18, "fontStyle": "italic", "align": "center", "baseline": "middle"}, "encoding": {"text": {"field": "t", "type": "nominal"}}},
                {"transform": [{"filter": "datum.kind === 'lab'"}], "mark": {"type": "text", "fontSize": 21, "align": "center", "baseline": "middle"}, "encoding": {"text": {"field": "t", "type": "nominal"}}},
                {"transform": [{"filter": "datum.kind === 'bt'"}], "mark": {"type": "text", "fontSize": 22, "align": "left", "baseline": "middle"}, "encoding": {"text": {"field": "t", "type": "nominal"}}},
                {"transform": [{"filter": "datum.kind === 'tr'"}], "mark": {"type": "text", "fontSize": 27, "align": "left", "baseline": "alphabetic"}, "encoding": {"text": {"field": "t", "type": "nominal"}}},
                {"transform": [{"filter": "datum.kind === 'ts'"}], "mark": {"type": "text", "fontSize": 23, "align": "left", "baseline": "alphabetic"}, "encoding": {"text": {"field": "t", "type": "nominal"}}},
                {"transform": [{"filter": "datum.kind === 'td'"}], "mark": {"type": "text", "fontSize": 28, "align": "center", "baseline": "alphabetic"}, "encoding": {"text": {"field": "t", "type": "nominal"}}},
                {"transform": [{"filter": "datum.kind === 'tp'"}], "mark": {"type": "text", "fontSize": 26, "align": "right", "baseline": "alphabetic"}, "encoding": {"text": {"field": "t", "type": "nominal"}}}
              ]
            },
            {
              "width": 590, "height": 491,
              "data": {"values": [
                {"kind": "box", "x": 0, "x2": 2.5, "y": 20, "y2": 90},
                {"kind": "c", "s": "30", "o": 1, "x": 0, "y": 150}, {"kind": "c", "s": "30", "o": 2, "x": 0.5, "y": 144.5}, {"kind": "c", "s": "30", "o": 3, "x": 1.0, "y": 134.4}, {"kind": "c", "s": "30", "o": 4, "x": 1.5, "y": 122.5}, {"kind": "c", "s": "30", "o": 5, "x": 2.0, "y": 109.5}, {"kind": "c", "s": "30", "o": 6, "x": 2.25, "y": 101.9}, {"kind": "c", "s": "30", "o": 7, "x": 2.25, "y": 20},
                {"kind": "c", "s": "60", "o": 1, "x": 0, "y": 150}, {"kind": "c", "s": "60", "o": 2, "x": 0.5, "y": 146}, {"kind": "c", "s": "60", "o": 3, "x": 1.0, "y": 141.3}, {"kind": "c", "s": "60", "o": 4, "x": 1.5, "y": 135.5}, {"kind": "c", "s": "60", "o": 5, "x": 2.0, "y": 129.5}, {"kind": "c", "s": "60", "o": 6, "x": 2.5, "y": 122.5}, {"kind": "c", "s": "60", "o": 7, "x": 3.0, "y": 115.8}, {"kind": "c", "s": "60", "o": 8, "x": 3.185, "y": 112.4}, {"kind": "c", "s": "60", "o": 9, "x": 3.185, "y": 20},
                {"kind": "c", "s": "90", "o": 1, "x": 0, "y": 150}, {"kind": "c", "s": "90", "o": 2, "x": 1.0, "y": 142.5}, {"kind": "c", "s": "90", "o": 3, "x": 2.0, "y": 134.5}, {"kind": "c", "s": "90", "o": 4, "x": 2.5, "y": 129.5}, {"kind": "c", "s": "90", "o": 5, "x": 3.0, "y": 124}, {"kind": "c", "s": "90", "o": 6, "x": 3.5, "y": 119.1}, {"kind": "c", "s": "90", "o": 7, "x": 3.96, "y": 113.8}, {"kind": "c", "s": "90", "o": 8, "x": 3.96, "y": 20},
                {"kind": "c", "s": "120", "o": 1, "x": 0, "y": 150}, {"kind": "c", "s": "120", "o": 2, "x": 1.0, "y": 144.5}, {"kind": "c", "s": "120", "o": 3, "x": 2.0, "y": 138}, {"kind": "c", "s": "120", "o": 4, "x": 3.0, "y": 130.5}, {"kind": "c", "s": "120", "o": 5, "x": 4.0, "y": 122}, {"kind": "c", "s": "120", "o": 6, "x": 4.49, "y": 116.9}, {"kind": "c", "s": "120", "o": 7, "x": 4.49, "y": 20},
                {"kind": "c", "s": "180", "o": 1, "x": 0, "y": 150}, {"kind": "c", "s": "180", "o": 2, "x": 1.0, "y": 145}, {"kind": "c", "s": "180", "o": 3, "x": 2.0, "y": 140.2}, {"kind": "c", "s": "180", "o": 4, "x": 3.0, "y": 135.3}, {"kind": "c", "s": "180", "o": 5, "x": 4.0, "y": 129.5}, {"kind": "c", "s": "180", "o": 6, "x": 4.5, "y": 126.5}, {"kind": "c", "s": "180", "o": 7, "x": 5.0, "y": 122}, {"kind": "c", "s": "180", "o": 8, "x": 5.56, "y": 117.5}, {"kind": "c", "s": "180", "o": 9, "x": 5.56, "y": 20},
                {"kind": "lab", "t": "α=30°", "x": 1.755, "y": 95.65},
                {"kind": "lab", "t": "60°", "x": 2.918, "y": 95.65},
                {"kind": "lab", "t": "90°", "x": 3.594, "y": 95.65},
                {"kind": "lab", "t": "120°", "x": 4.82, "y": 95.65},
                {"kind": "lab", "t": "180°", "x": 5.995, "y": 95.65},
                {"kind": "lab", "t": "0°", "x": 0.516, "y": 42.5},
                {"kind": "lab", "t": "360°", "x": 1.524, "y": 42.5},
                {"kind": "bt", "t": "RECTANGULAR", "x": 0.222, "y": 82.7},
                {"kind": "bt", "t": "WAVEFORM", "x": 0.222, "y": 73.1},
                {"kind": "bt", "t": "(ONE CELL)", "x": 0.222, "y": 64.05},
                {"kind": "bt", "t": "CONDUCTION", "x": 0.222, "y": 33.9},
                {"kind": "bt", "t": "ANGLE", "x": 0.222, "y": 24.3},
                {"kind": "wf", "o": 1, "x": 0.537, "y": 48.9}, {"kind": "wf", "o": 2, "x": 0.718, "y": 48.9}, {"kind": "wf", "o": 3, "x": 0.718, "y": 59.1}, {"kind": "wf", "o": 4, "x": 1.117, "y": 59.1}, {"kind": "wf", "o": 5, "x": 1.117, "y": 48.9}, {"kind": "wf", "o": 6, "x": 1.469, "y": 48.9}, {"kind": "wf", "o": 7, "x": 1.469, "y": 59.1}, {"kind": "wf", "o": 8, "x": 1.797, "y": 59.1}, {"kind": "wf", "o": 9, "x": 1.797, "y": 48.9}, {"kind": "wf", "o": 10, "x": 1.977, "y": 48.9},
                {"kind": "tk", "x": 0.718, "y": 40.1, "y2": 47.3},
                {"kind": "tk", "x": 1.117, "y": 40.1, "y2": 47.3},
                {"kind": "ar", "x": 0.718, "x2": 1.117, "y": 42.0},
                {"kind": "ahl", "x": 0.752, "y": 42.0},
                {"kind": "ahr", "x": 1.083, "y": 42.0},
                {"kind": "al", "t": "α", "x": 0.936, "y": 44.4},
                {"kind": "tr", "t": "Tc MAX", "x": 1.761, "y": 165.76},
                {"kind": "td", "t": "–", "x": 3.298, "y": 165.76},
                {"kind": "tr", "t": "I", "x": 3.565, "y": 165.76},
                {"kind": "ts", "t": "O", "x": 3.699, "y": 164.4},
                {"kind": "tp", "t": "(5FL2CZ47A)", "x": 6.322, "y": 166.3}
              ]},
              "encoding": {
                "x": {"field": "x", "type": "quantitative", "scale": {"domain": [0, 6.5], "nice": false, "zero": false},
                  "axis": {"values": [0, 0.5, 1, 1.5, 2, 2.5, 3, 3.5, 4, 4.5, 5, 5.5, 6, 6.5],
                    "labelExpr": "datum.value % 1 === 0 && datum.value <= 6 ? format(datum.value, 'd') : ''",
                    "grid": true, "gridWidth": 2,
                    "title": "AVERAGE OUTPUT RECTIFIED CURRENT\u00a0\u00a0\u00a0\u00a0IO\u00a0\u00a0\u00a0(A)", "titleY": 61}},
                "y": {"field": "y", "type": "quantitative", "scale": {"domain": [20, 160], "nice": false, "zero": false},
                  "axis": {"values": [20, 30, 40, 50, 60, 70, 80, 90, 100, 110, 120, 130, 140, 150, 160],
                    "labelExpr": "datum.value % 20 === 0 ? format(datum.value, 'd') : ''",
                    "grid": true, "gridWidth": {"condition": {"test": "datum.value % 20 === 0", "value": 2.8}, "value": 1.8},
                    "title": ["MAXIMUM ALLOWABLE CASE\u00a0\u00a0TEMPERATURE", "Tc MAX\u00a0\u00a0\u00a0\u00a0(°C)"], "titleFontSize": 22}}
              },
              "layer": [
                {"transform": [{"filter": "datum.kind === 'box'"}], "mark": {"type": "rect", "fill": "white", "stroke": "black", "strokeWidth": 2}, "encoding": {"x2": {"field": "x2"}, "y2": {"field": "y2"}}},
                {"transform": [{"filter": "datum.kind === 'c'"}], "mark": {"type": "line", "color": "black", "strokeWidth": 4, "strokeJoin": "round"}, "encoding": {"detail": {"field": "s", "type": "nominal"}, "order": {"field": "o", "type": "quantitative"}}},
                {"transform": [{"filter": "datum.kind === 'wf'"}], "mark": {"type": "line", "color": "black", "strokeWidth": 2.5}, "encoding": {"order": {"field": "o", "type": "quantitative"}}},
                {"transform": [{"filter": "datum.kind === 'tk'"}], "mark": {"type": "rule", "strokeWidth": 1.5}, "encoding": {"y2": {"field": "y2"}}},
                {"transform": [{"filter": "datum.kind === 'ar'"}], "mark": {"type": "rule", "strokeWidth": 1.5}, "encoding": {"x2": {"field": "x2"}}},
                {"transform": [{"filter": "datum.kind === 'ahl'"}], "mark": {"type": "point", "shape": "triangle-left", "filled": true, "opacity": 1, "color": "black", "size": 40}},
                {"transform": [{"filter": "datum.kind === 'ahr'"}], "mark": {"type": "point", "shape": "triangle-right", "filled": true, "opacity": 1, "color": "black", "size": 40}},
                {"transform": [{"filter": "datum.kind === 'al'"}], "mark": {"type": "text", "fontSize": 18, "fontStyle": "italic", "align": "center", "baseline": "middle"}, "encoding": {"text": {"field": "t", "type": "nominal"}}},
                {"transform": [{"filter": "datum.kind === 'lab'"}], "mark": {"type": "text", "fontSize": 21, "align": "center", "baseline": "middle"}, "encoding": {"text": {"field": "t", "type": "nominal"}}},
                {"transform": [{"filter": "datum.kind === 'bt'"}], "mark": {"type": "text", "fontSize": 22, "align": "left", "baseline": "middle"}, "encoding": {"text": {"field": "t", "type": "nominal"}}},
                {"transform": [{"filter": "datum.kind === 'tr'"}], "mark": {"type": "text", "fontSize": 27, "align": "left", "baseline": "alphabetic"}, "encoding": {"text": {"field": "t", "type": "nominal"}}},
                {"transform": [{"filter": "datum.kind === 'ts'"}], "mark": {"type": "text", "fontSize": 23, "align": "left", "baseline": "alphabetic"}, "encoding": {"text": {"field": "t", "type": "nominal"}}},
                {"transform": [{"filter": "datum.kind === 'td'"}], "mark": {"type": "text", "fontSize": 28, "align": "center", "baseline": "alphabetic"}, "encoding": {"text": {"field": "t", "type": "nominal"}}},
                {"transform": [{"filter": "datum.kind === 'tp'"}], "mark": {"type": "text", "fontSize": 26, "align": "right", "baseline": "alphabetic"}, "encoding": {"text": {"field": "t", "type": "nominal"}}}
              ]
            }
          ],
          "columns": 2,
          "spacing": {"row": 168, "column": 278},
          "bounds": "flush"
        },
        {
          "vconcat": [
            {
              "width": 1578, "height": 111,
              "view": {"stroke": null},
              "title": {"text": "961001EAA2'", "anchor": "end", "orient": "top", "font": "DejaVu Sans", "fontSize": 21, "fontWeight": "normal", "color": "black", "offset": 6, "dx": -24},
              "data": {"values": [
                {"line": 1, "b": 1, "text": "The information contained herein is presented only as a guide for the applications of our products. No responsibility is assumed by TOSHIBA"},
                {"line": 2, "b": 0, "text": "CORPORATION for any infringements of intelectual property or other rights of the third parties which may result from its use. No license is granted"},
                {"line": 3, "b": 0, "text": "by implication or otherwise under any intellectual property or other rights of TOSHIBA CORPORATION or others."},
                {"line": 4, "b": 1, "text": "The information contained herein is subject to change without notice."}
              ]},
              "resolve": {"scale": {"x": "independent"}},
              "layer": [
                {"transform": [{"filter": "datum.line === 1"}],
                  "mark": {"type": "rect", "filled": false, "stroke": "black", "strokeWidth": 5},
                  "encoding": {
                    "x": {"datum": "left", "type": "nominal", "scale": {"type": "point", "domain": ["left", "right"], "range": [-120, 1578], "padding": 0}, "axis": null},
                    "x2": {"datum": "right"}
                  }},
                {"transform": [{"filter": "datum.b === 1"}],
                  "mark": {"type": "point", "filled": true, "opacity": 1, "color": "black", "size": 380, "shape": "M -0.7 0 A 0.7 1 0 1 0 0.7 0 A 0.7 1 0 1 0 -0.7 0 Z"},
                  "encoding": {
                    "x": {"datum": "bullet", "type": "nominal", "scale": {"type": "point", "domain": ["bullet", "text"], "range": [-91, -69], "padding": 0}, "axis": null},
                    "y": {"field": "line", "type": "ordinal", "scale": {"type": "point", "domain": [1, 2, 3, 4], "range": [17, 85], "padding": 0}, "axis": null}
                  }},
                {"mark": {"type": "text", "align": "left", "baseline": "middle", "font": "DejaVu Sans", "fontSize": 21.5},
                  "encoding": {
                    "x": {"datum": "text", "type": "nominal", "scale": {"type": "point", "domain": ["bullet", "text"], "range": [-91, -69], "padding": 0}, "axis": null},
                    "y": {"field": "line", "type": "ordinal", "scale": {"type": "point", "domain": [1, 2, 3, 4], "range": [17, 85], "padding": 0}, "axis": null},
                    "text": {"field": "text", "type": "nominal"}
                  }}
              ]
            },
            {
              "width": 1581, "height": 42,
              "view": {"stroke": null},
              "data": {"values": [{"side": "right", "text": "1996-12-02\u00a0\u00a0\u00a02/3"}]},
              "mark": {"type": "text", "align": "right", "baseline": "middle", "font": "DejaVu Sans", "fontSize": 35, "dx": -35},
              "encoding": {
                "x": {"field": "side", "type": "nominal", "scale": {"type": "point", "domain": ["left", "right"], "range": [-123, 1581], "padding": 0},
                  "axis": {"orient": "top", "domain": true, "domainColor": "black", "domainWidth": 3, "labels": false, "ticks": false, "grid": false, "title": null}},
                "text": {"field": "text", "type": "nominal"}
              }
            }
          ],
          "spacing": 21,
          "bounds": "full"
        }
      ],
      "spacing": 74,
      "bounds": "full"
    }
  ],
  "spacing": 266,
  "bounds": "full"
}
